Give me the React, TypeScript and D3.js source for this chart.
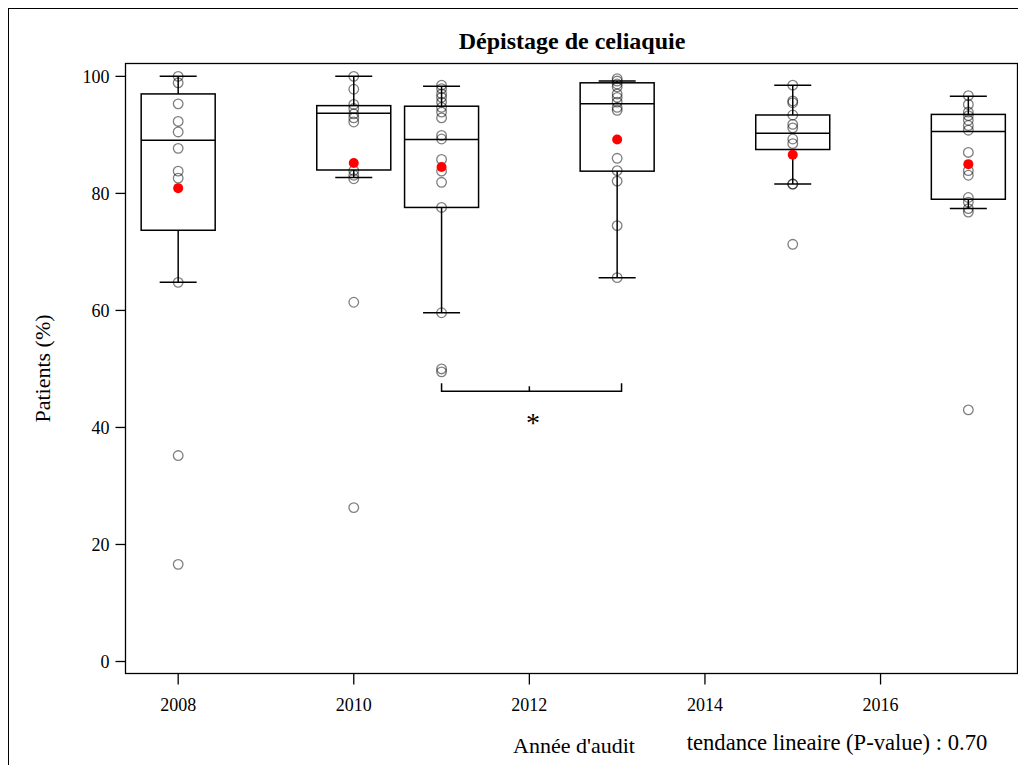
import React from "react";
import * as d3 from "d3";

const years = [2008, 2010, 2011, 2013, 2015, 2017];
const whiskLo = [64.8, 82.7, 59.6, 65.6, 81.6, 77.4];
const q1 = [73.7, 84.0, 77.6, 83.8, 87.5, 79.0];
const median = [89.1, 93.7, 89.2, 95.3, 90.3, 90.6];
const q3 = [97.0, 95.0, 94.9, 98.9, 93.4, 93.5];
const whiskHi = [100, 100, 98.3, 99.2, 98.5, 96.6];
const means = [80.9, 85.2, 84.5, 89.2, 86.6, 85.0];

const points2008 = [100, 98.9, 95.3, 92.3, 90.5, 87.7, 83.8, 82.6, 64.8, 35.2, 16.6];
const points2010 = [100, 97.8, 95.2, 94.5, 93.6, 92.9, 92.2, 83.9, 83.1, 82.5, 61.4, 26.3];
const points2011 = [98.5, 97.9, 97.0, 96.4, 95.6, 94.7, 93.9, 92.9, 89.9, 89.3, 85.8, 83.8, 81.9, 77.6, 59.6, 50.0, 49.5];
const points2013 = [99.6, 99.2, 98.7, 98.2, 97.0, 96.4, 95.6, 94.7, 94.2, 86.0, 83.9, 82.1, 74.5, 65.6];
const points2015 = [98.5, 95.8, 95.5, 93.4, 91.8, 91.2, 89.3, 88.5, 81.6, 81.6, 71.3];
const points2017 = [96.7, 95.2, 93.9, 93.3, 92.5, 91.6, 90.8, 87.0, 83.9, 83.1, 79.3, 78.5, 77.4, 76.8, 43.0];
const allPoints = [points2008, points2010, points2011, points2013, points2015, points2017];

const xTicks = [2008, 2010, 2012, 2014, 2016];
const yTicks = [0, 20, 40, 60, 80, 100];
const bracketYears = [2011, 2012, 2013.05];
const bracketValue = 46.2;

const title = "Dépistage de celiaquie";
const xLabel = "Année d'audit";
const yLabel = "Patients (%)";
const note = "tendance lineaire (P-value) : 0.70";

export default function App() {
  const left = 125.5, right = 1017.5, top = 63.5, bottom = 673.5;
  const x = d3.scaleLinear().domain([2007.4, 2017.56]).range([left, right]);
  const y = d3.scaleLinear().domain([-2.05, 102.2]).range([bottom, top]);
  const boxHalf = 37;
  const capHalf = 18.5;
  const font = "'Liberation Serif', 'Times New Roman', serif";

  return (
    <svg width={1016} height={757} style={{ display: "block" }}>
      <rect x={0.5} y={0.5} width={1012} height={800} fill="white" stroke="black" strokeWidth={1} />
      <g transform="translate(-8,-8)" fontFamily={font}>
        <text x={572} y={49} textAnchor="middle" fontWeight="bold" fontSize={24}>{title}</text>
        <rect x={left} y={top} width={right - left} height={bottom - top} fill="none" stroke="black" strokeWidth={1.3} />
        {yTicks.map((t) => (
          <g key={"y" + t}>
            <line x1={left - 10} x2={left} y1={y(t)} y2={y(t)} stroke="black" strokeWidth={1.3} />
            <text x={left - 16} y={y(t)} dy="0.35em" textAnchor="end" fontSize={18}>{t}</text>
          </g>
        ))}
        {xTicks.map((t) => (
          <g key={"x" + t}>
            <line x1={x(t)} x2={x(t)} y1={bottom} y2={bottom + 11} stroke="black" strokeWidth={1.3} />
            <text x={x(t)} y={711} textAnchor="middle" fontSize={18}>{t}</text>
          </g>
        ))}
        <text x={574} y={753} textAnchor="middle" fontSize={22}>{xLabel}</text>
        <text x={837} y={750} textAnchor="middle" fontSize={22.6}>{note}</text>
        <text transform={`translate(50,${(top + bottom) / 2}) rotate(-90)`} textAnchor="middle" fontSize={22}>{yLabel}</text>
        {years.map((yr, i) => {
          const cx = x(yr);
          return (
            <g key={"b" + yr} stroke="black" strokeWidth={1.5} fill="none">
              <line x1={cx} x2={cx} y1={y(q3[i])} y2={y(whiskHi[i])} />
              <line x1={cx} x2={cx} y1={y(q1[i])} y2={y(whiskLo[i])} />
              <line x1={cx - capHalf} x2={cx + capHalf} y1={y(whiskHi[i])} y2={y(whiskHi[i])} />
              <line x1={cx - capHalf} x2={cx + capHalf} y1={y(whiskLo[i])} y2={y(whiskLo[i])} />
              <rect x={cx - boxHalf} y={y(q3[i])} width={boxHalf * 2} height={y(q1[i]) - y(q3[i])} />
              <line x1={cx - boxHalf} x2={cx + boxHalf} y1={y(median[i])} y2={y(median[i])} />
            </g>
          );
        })}
        {years.map((yr, i) => (
          <g key={"p" + yr}>
            {allPoints[i].map((v, j) => (
              <circle key={j} cx={x(yr)} cy={y(v)} r={4.8} fill="none" stroke="black" strokeOpacity={0.5} strokeWidth={1.3} />
            ))}
            <circle cx={x(yr)} cy={y(means[i])} r={5} fill="red" />
          </g>
        ))}
        <path
          d={`M${x(bracketYears[0])},${y(bracketValue) - 8}V${y(bracketValue)}H${x(bracketYears[2])}V${y(bracketValue) - 8}M${x(bracketYears[1])},${y(bracketValue)}V${y(bracketValue) - 5}`}
          fill="none"
          stroke="black"
          strokeWidth={1.5}
        />
        <text x={533} y={432} textAnchor="middle" fontSize={28}>*</text>
      </g>
    </svg>
  );
}
